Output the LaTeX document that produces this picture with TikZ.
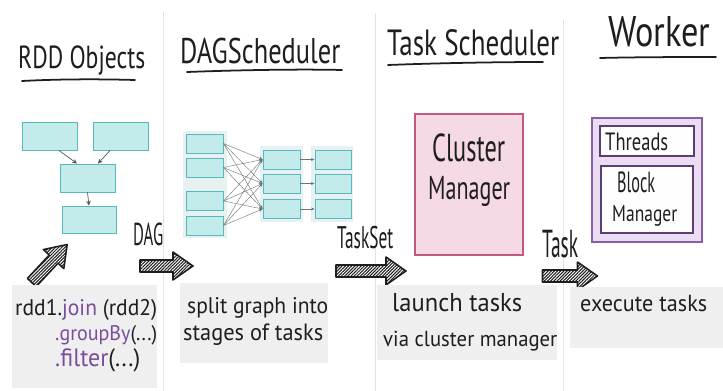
\documentclass[tikz,border=0pt]{standalone}
\usepackage{fontspec}
\setmainfont{PT Sans}
\usetikzlibrary{patterns.meta,arrows.meta}
\newlength\pxu
\setlength\pxu{0.03cm}
\newcommand\hwt[3][1.35]{\resizebox{#2}{!}{\scalebox{1}[#1]{#3}}}
\definecolor{ink}{HTML}{1E1E1E}
\definecolor{purp}{HTML}{7A4D9C}
\definecolor{cyanfill}{HTML}{C4EBEC}
\definecolor{cyanline}{HTML}{55BABD}
\definecolor{grpfill}{HTML}{E7F1F1}
\definecolor{pinkfill}{HTML}{F5DAE5}
\definecolor{pinkline}{HTML}{C4587F}
\definecolor{lavfill}{HTML}{EADDF2}
\definecolor{lavline}{HTML}{8B5CA8}
\definecolor{darkpurp}{HTML}{5B3D74}
\definecolor{notefill}{HTML}{EFEFEF}
\definecolor{divider}{HTML}{E2E2E2}
\newcommand\hatcharrow[4]{%
  \begin{scope}[shift={(#1,#2)},rotate=#3]
    \draw[hatchstyle] (-#4/2,-6) -- (#4/2-20,-6) -- (#4/2-20,-14) -- (#4/2,0)
      -- (#4/2-20,14) -- (#4/2-20,6) -- (-#4/2,6) -- cycle;
  \end{scope}}
\tikzset{
  hw/.style={inner sep=0pt, text=ink},
  cbox/.style 2 args={draw=cyanline, fill=cyanfill, line width=0.8pt, minimum width=#1*\pxu, minimum height=#2*\pxu, inner sep=0pt},
  grp/.style 2 args={fill=grpfill, minimum width=#1*\pxu, minimum height=#2*\pxu, inner sep=0pt},
  note/.style 2 args={fill=notefill, minimum width=#1*\pxu, minimum height=#2*\pxu, inner sep=0pt},
  rddarrow/.style={draw=black!65, line width=0.6pt, -{Stealth[length=4pt,width=4pt]}},
  netarrow/.style={draw=black!55, line width=0.35pt, -{Stealth[length=3pt,width=2.5pt]}},
  underline/.style={draw=ink, line width=1.5pt, line cap=round},
  hatchstyle/.style={draw=ink, line width=1.3pt, line join=round, fill=white,
    pattern={Lines[angle=45,distance=1.9pt,line width=0.9pt]}, pattern color=ink},
}
\begin{document}
\begin{tikzpicture}[x=\pxu,y=-\pxu]
\fill[white] (0,0) rectangle (723,391);
\useasboundingbox (0,0) rectangle (723,391);

% dividers
\draw[divider, line width=0.8pt] (163,12) -- (163,391);
\draw[divider, line width=0.8pt] (375,13) -- (375,391);
\draw[divider, line width=0.8pt] (563,20) -- (563,391);

% titles
\node[hw, anchor=base west] (t1) at (18,68) {\hwt{127\pxu}{RDD Objects}};
\node[hw, anchor=base west] (t2) at (180,63) {\hwt{160\pxu}{DAGScheduler}};
\node[hw, anchor=base west] (t3) at (387,55) {\hwt{172\pxu}{Task Scheduler}};
\node[hw, anchor=base west] (t4) at (608,46) {\hwt[1.25]{102\pxu}{Worker}};
\draw[underline] (22,81) .. controls (60,79) and (100,79) .. (135,80);
\draw[underline] (187,72) .. controls (240,70) and (300,69) .. (342,70);
\draw[underline] (388,65) .. controls (440,63) and (500,62) .. (543,62);
\draw[underline] (600,58) .. controls (640,57) and (690,57) .. (716,57);

% RDD objects
\node[cbox={55}{28}] (r1) at (49.5,136) {};
\node[cbox={55}{28}] (r2) at (120.5,136) {};
\node[cbox={55}{28}] (r3) at (87.5,178) {};
\node[cbox={54}{27}] (r4) at (89,219.5) {};
\draw[rddarrow] ([xshift=9.5*\pxu]r1.south) -- ([xshift=-10.5*\pxu]r3.north);
\draw[rddarrow] ([xshift=-10.5*\pxu]r2.south) -- ([xshift=10.5*\pxu]r3.north);
\draw[rddarrow] (r3.south) -- (r4.north);

% DAG scheduler
\node[grp={44}{107}] (gl) at (205,184.5) {};
\node[grp={43}{76}] (gm) at (281.5,184) {};
\node[grp={42}{76}] (gr) at (332,184) {};
\node[cbox={37}{19}] (L1) at (204.5,143.5) {};
\node[cbox={37}{19}] (L2) at (204.5,167.5) {};
\node[cbox={37}{19}] (L3) at (204.5,201) {};
\node[cbox={37}{19}] (L4) at (204.5,225.5) {};
\node[cbox={37}{19}] (M1) at (281.5,159.5) {};
\node[cbox={37}{19}] (M2) at (281.5,183.5) {};
\node[cbox={37}{19}] (M3) at (281.5,209) {};
\node[cbox={36}{19}] (R1) at (333,159.5) {};
\node[cbox={36}{19}] (R2) at (333,183.5) {};
\node[cbox={36}{19}] (R3) at (333,209) {};
\foreach \i in {1,...,4} {
  \foreach \j in {1,2,3} {
    \draw[netarrow] (L\i.east) -- (M\j.west);
  }
}
\foreach \j in {1,2,3} {
  \draw[netarrow] (M\j.east) -- (R\j.west);
}

% Task scheduler
\node[draw=pinkline, fill=pinkfill, line width=1.2pt, minimum width=108*\pxu, minimum height=141*\pxu, inner sep=0pt] (cm) at (469,184.5) {};
\node[hw, anchor=base west] (cm1) at (432,161) {\hwt[1.6]{73\pxu}{Cluster}};
\node[hw, anchor=base west] (cm2) at (428,199) {\hwt[1.5]{82\pxu}{Manager}};

% Worker
\node[draw=lavline, fill=lavfill, line width=1.2pt, minimum width=110*\pxu, minimum height=124*\pxu, inner sep=0pt] (wk) at (647,180) {};
\node[draw=darkpurp, fill=white!96!lavfill, line width=1pt, minimum width=94*\pxu, minimum height=30*\pxu, inner sep=0pt] (th) at (647,141) {};
\node[draw=darkpurp, fill=white!96!lavfill, line width=1pt, minimum width=92*\pxu, minimum height=67*\pxu, inner sep=0pt] (bm) at (647,199.5) {};
\node[hw, anchor=base west] (tht) at (605,150) {\hwt{63\pxu}{Threads}};
\node[hw, anchor=base west] (bm1) at (617,192) {\hwt[1.8]{38\pxu}{Block}};
\node[hw, anchor=base west] (bm2) at (612,221) {\hwt[1.3]{65\pxu}{Manager}};

% hatched arrows
\hatcharrow{49.5}{263.5}{47}{52}
\hatcharrow{166.5}{266}{0}{53}
\hatcharrow{371}{271}{0}{70}
\hatcharrow{570}{276}{0}{55}
\node[hw, anchor=base west] (lDAG) at (133,245) {\hwt[1.9]{30\pxu}{DAG}};
\node[hw, anchor=base west] (lTS) at (337,248) {\hwt[1.8]{56\pxu}{TaskSet}};
\node[hw, anchor=base west] (lT) at (542,257) {\hwt[2.0]{36\pxu}{Task}};

% notes
\node[note={145}{103}] (n1) at (84.5,336.5) {};
\node[note={148}{80}] (n2) at (254,323) {};
\node[note={180}{75}] (n3) at (467,322.5) {};
\node[note={153}{61}] (n4) at (646.5,317.5) {};
\node[hw, anchor=base west] (c1) at (15,315) {\hwt[1.05]{142\pxu}{rdd1.\textcolor{purp}{join} (rdd2)}};
\node[hw, anchor=base west] (c2) at (55,340) {\hwt[1.05]{102\pxu}{\textcolor{purp}{.groupBy}(...)}};
\node[hw, anchor=base west] (c3) at (55,366) {\hwt[1.05]{85\pxu}{\textcolor{purp}{.filter}(...)}};
\node[hw, anchor=base west] (s1) at (187,313) {\hwt[1.05]{141\pxu}{split graph into}};
\node[hw, anchor=base west] (s2) at (183,340) {\hwt[1.05]{140\pxu}{stages of tasks}};
\node[hw, anchor=base west] (l1) at (392,311) {\hwt[1.05]{130\pxu}{launch tasks}};
\node[hw, anchor=base west] (l2) at (383,346) {\hwt[1.05]{174\pxu}{via cluster manager}};
\node[hw, anchor=base west] (e1) at (580,311) {\hwt[1.05]{127\pxu}{execute tasks}};
\end{tikzpicture}
\end{document}
